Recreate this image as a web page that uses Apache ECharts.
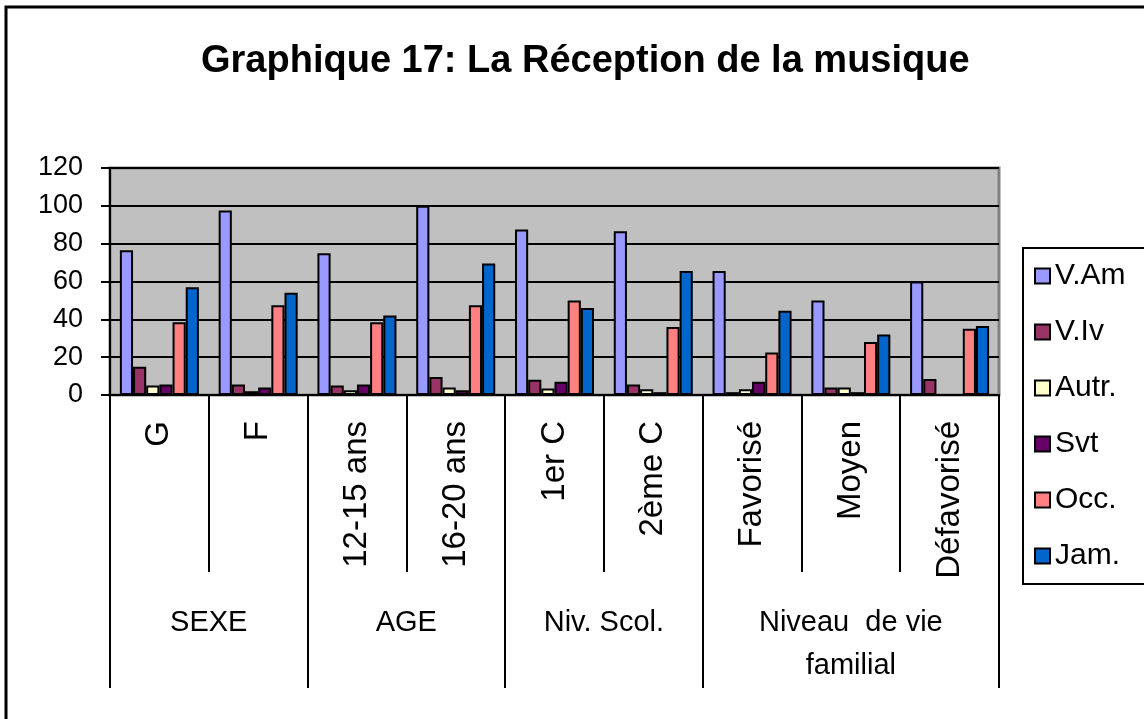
<!DOCTYPE html>
<html>
<head>
<meta charset="utf-8">
<title>Graphique 17</title>
<script src="https://cdn.jsdelivr.net/npm/echarts@6/dist/echarts.min.js"></script>
<style>
  html, body { margin: 0; padding: 0; background: #fff; }
  #charts { width: 1144px; height: 719px; }
</style>
</head>
<body>
<div id="charts"></div>
<script>
// categories (first level) and groups (second level)
const categories = ["G", "F", "12-15 ans", "16-20 ans", "1er C", "2ème C", "Favorisé", "Moyen", "Défavorisé"];
const groupNames = ["SEXE", "AGE", "Niv. Scol.", "Niveau  de vie\nfamilial"];
const groupSizes = [2, 2, 2, 3];

const seriesNames = ["V.Am", "V.Iv", "Autr.", "Svt", "Occ.", "Jam."];
const vAm = [76.5, 97.5, 75, 100, 87.5, 86.5, 65.5, 50, 60];
const vIv = [15, 5.5, 5, 9.5, 8, 5.5, 1.5, 4, 8.5];
const autr = [5, 2, 2.5, 4, 3.5, 3, 3, 4, 0];
const svt = [5.5, 4, 5.5, 2.5, 7, 1.5, 7, 1.5, 0];
const occ = [38.5, 47.5, 38.5, 47.5, 50, 36, 22.5, 28, 35];
const jam = [57, 54, 42, 69.5, 46, 65.5, 44.5, 32, 36.5];

const yTicks = [0, 20, 40, 60, 80, 100, 120];

let chartDom = document.getElementById("charts");
let myChart = echarts.init(chartDom);
let colors = ["#9999FF", "#993366", "#FFFFCC", "#660066", "#FF8080", "#0066CC"];
let font = "Arial, 'Liberation Sans', sans-serif";

// group boundaries and centres on a 0..n value scale
let bounds = [0];
let centres = [];
groupSizes.forEach(function (s) {
  let start = bounds[bounds.length - 1];
  centres.push(start + s / 2);
  bounds.push(start + s);
});

let allData = [vAm, vIv, autr, svt, occ, jam];
let option;

option = {
  animation: false,
  textStyle: { fontFamily: font, color: "#000" },
  title: {
    text: "Graphique 17: La Réception de la musique",
    left: 196,
    top: 38,
    textStyle: { fontFamily: font, fontSize: 38, fontWeight: "bold", color: "#000" },
  },
  graphic: [
    {
      type: "rect",
      shape: { x: 6, y: 7, width: 1200, height: 800 },
      style: { fill: "none", stroke: "#000", lineWidth: 3 },
      silent: true,
    },
  ],
  legend: {
    orient: "vertical",
    left: 1023,
    top: 248,
    padding: [13, 40, 13, 11],
    borderColor: "#000",
    borderWidth: 2,
    itemGap: 26,
    itemWidth: 15,
    itemHeight: 15,
    icon: "rect",
    textStyle: { fontFamily: font, fontSize: 30, color: "#000" },
    data: seriesNames,
  },
  grid: {
    left: 110,
    right: 145,
    top: 168,
    bottom: 324,
    show: true,
    backgroundColor: "#C0C0C0",
    borderColor: "#808080",
    borderWidth: 3,
    containLabel: false,
  },
  xAxis: [
    {
      type: "category",
      data: categories,
      position: "bottom",
      axisLine: { show: true, lineStyle: { color: "#000", width: 2 } },
      axisTick: { show: true, length: 177, lineStyle: { color: "#000", width: 2 } },
      axisLabel: {
        rotate: 90,
        interval: 0,
        margin: 26,
        fontSize: 33,
        fontFamily: font,
        color: "#000",
      },
      splitLine: { show: false },
    },
    {
      type: "value",
      min: 0,
      max: categories.length,
      position: "bottom",
      axisLine: { show: false },
      axisTick: {
        show: true,
        length: 293,
        customValues: bounds,
        lineStyle: { color: "#000", width: 2 },
      },
      axisLabel: {
        customValues: centres,
        margin: 206,
        fontSize: 29,
        lineHeight: 43,
        fontFamily: font,
        color: "#000",
        align: "center",
        formatter: function (v) {
          let i = centres.indexOf(v);
          return i >= 0 ? groupNames[i] : "";
        },
      },
      splitLine: { show: false },
    },
  ],
  yAxis: {
    type: "value",
    min: 0,
    max: 120,
    interval: 20,
    axisLine: { show: true, lineStyle: { color: "#000", width: 2 } },
    axisTick: { show: true, length: 9, lineStyle: { color: "#000", width: 2 } },
    axisLabel: {
      margin: 27,
      fontSize: 27,
      fontFamily: font,
      color: "#000",
      customValues: yTicks,
    },
    splitLine: { show: true, lineStyle: { color: "#000", width: 2 } },
  },
  series: seriesNames.map(function (name, i) {
    return {
      name: name,
      type: "bar",
      xAxisIndex: 0,
      data: allData[i],
      barGap: "0%",
      barCategoryGap: "20%",
      itemStyle: { color: colors[i], borderColor: "#000", borderWidth: 2 },
    };
  }),
};

option && myChart.setOption(option);
</script>
</body>
</html>
